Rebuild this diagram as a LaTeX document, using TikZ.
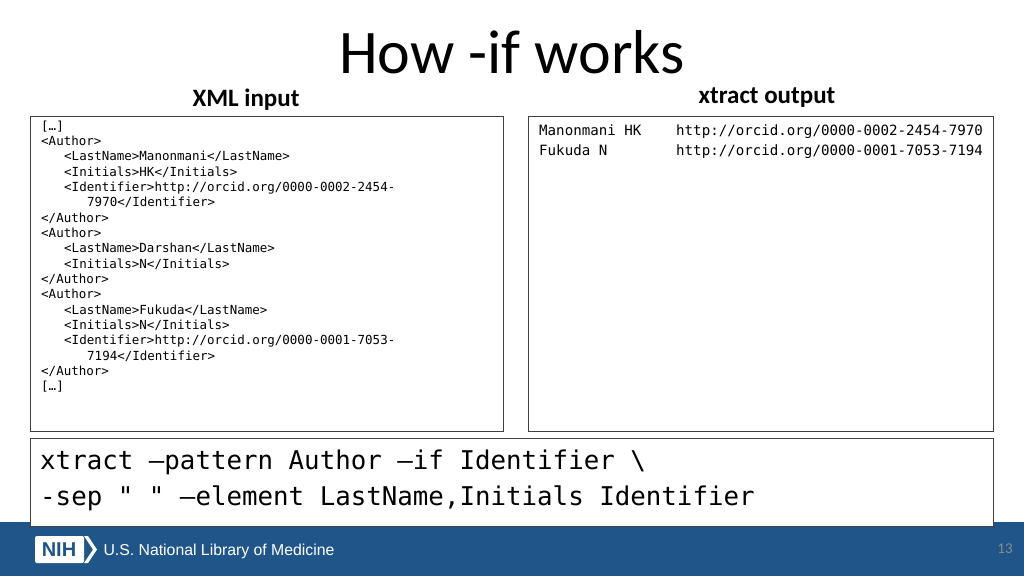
\documentclass[tikz,border=0pt]{standalone}
\usepackage{fontspec}
\setmainfont{Carlito}
\setsansfont{Liberation Sans}
\setmonofont{DejaVu Sans Mono}
\definecolor{nlmblue}{HTML}{20558A}
\begin{document}
\begin{tikzpicture}[x=1pt,y=-1pt,
    panel/.style={draw=black!75, line width=0.8pt},
    xmlline/.style={anchor=base west, inner sep=0pt, font=\ttfamily\fontsize{12.5}{14}\selectfont},
    outline/.style={anchor=base west, inner sep=0pt, font=\ttfamily\fontsize{14.15}{16}\selectfont},
    cmdline/.style={anchor=base west, inner sep=0pt, font=\ttfamily\fontsize{25.8}{30}\selectfont},
    heading/.style={font=\bfseries\fontsize{25}{28}\selectfont}]
    \useasboundingbox (0,0) rectangle (1024,576);
    \fill[white] (0,0) rectangle (1024,576);
    % footer band
    \fill[nlmblue] (0,522) rectangle (1024,576);
    \fill[white, rounded corners=2pt] (35,536) rectangle (84,563);
    \node[font=\sffamily\bfseries\fontsize{20}{20}\selectfont, text=nlmblue] (nih) at (59,550) {NIH};
    \fill[white] (84,536) -- (88,536) -- (97,549.5) -- (88,563) -- (84,563) -- (93,549.5) -- cycle;
    \node[anchor=west, text=white, font=\sffamily\fontsize{15.8}{17}\selectfont] (nlm) at (100,551) {U.S. National Library of Medicine};
    \node[text=black!45, font=\fontsize{15}{16}\selectfont] (page) at (1005,549) {13};
    % title and headings
    \node[font=\fontsize{62}{64}\selectfont] (title) at (512,52) {How -if works};
    \node[heading] (xmlhead) at (246,100) {XML input};
    \node[heading] (outhead) at (767,98) {xtract output};
    % panels
    \draw[panel, fill=white] (30,116) rectangle (503,431);
    \draw[panel, fill=white] (528,116) rectangle (993,431);
    \draw[panel, fill=white] (30,438) rectangle (993,526);
    % XML input
    \foreach \i/\ind/\txt in {0/0/{[…]},1/0/{<Author>},2/1/{<LastName>Manonmani</LastName>},
        3/1/{<Initials>HK</Initials>},4/1/{<Identifier>http://orcid.org/0000-0002-2454-},
        5/2/{7970</Identifier>},6/0/{</Author>},7/0/{<Author>},
        8/1/{<LastName>Darshan</LastName>},9/1/{<Initials>N</Initials>},10/0/{</Author>},
        11/0/{<Author>},12/1/{<LastName>Fukuda</LastName>},13/1/{<Initials>N</Initials>},
        14/1/{<Identifier>http://orcid.org/0000-0001-7053-},15/2/{7194</Identifier>},
        16/0/{</Author>},17/0/{[…]}}{
        \node[xmlline] (x\i) at (41+23*\ind, 130+15.35*\i) {\txt};
    };
    % xtract output
    \node[outline] (o1) at (539,135) {Manonmani HK};
    \node[outline] (o2) at (539,155) {Fukuda N};
    \node[outline] (u1) at (676,135) {http://orcid.org/0000-0002-2454-7970};
    \node[outline] (u2) at (676,155) {http://orcid.org/0000-0001-7053-7194};
    % command
    \node[cmdline] (c1) at (40,469) {xtract –pattern Author –if Identifier \textbackslash};
    \node[cmdline] (c2) at (40,505) {-sep " " –element LastName,Initials Identifier};
\end{tikzpicture}
\end{document}
